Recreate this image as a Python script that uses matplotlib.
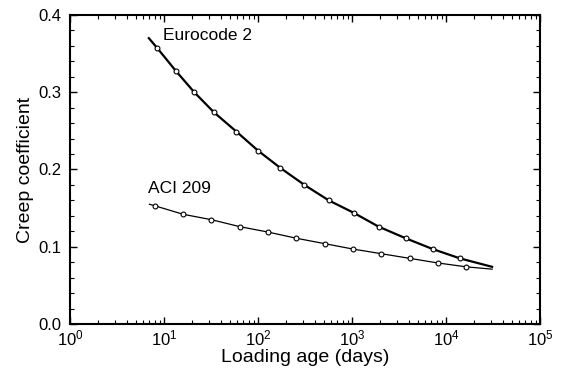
import matplotlib.pyplot as plt
import numpy as np

plt.rcParams['font.family'] = ['Liberation Sans', 'DejaVu Sans']

# Eurocode 2 curve (first and last points are the curve ends, no marker)
ec2_age = [6.9, 8.5, 13.5, 21, 34, 59, 101, 173, 312, 566, 1040, 1920, 3720, 7220, 14000, 30900]
ec2_phi = [0.370, 0.357, 0.327, 0.300, 0.274, 0.249, 0.224, 0.202, 0.180, 0.160,
           0.144, 0.126, 0.111, 0.097, 0.085, 0.074]

# ACI 209 curve
aci_age = [7.0, 8, 16, 32, 64, 128, 256, 512, 1024, 2048, 4096, 8192, 16384, 30900]
aci_phi = [0.155, 0.153, 0.142, 0.135, 0.126, 0.119, 0.111, 0.104, 0.097, 0.091,
           0.085, 0.079, 0.074, 0.071]

fig = plt.figure(figsize=(5.63, 3.71), dpi=100)
ax = fig.add_axes([0.1243, 0.1267, 0.8349, 0.8329])

ax.plot(ec2_age, ec2_phi, color='black', lw=1.6, marker='o', ms=3.5, mfc='white',
        mec='black', mew=0.8, markevery=slice(1, len(ec2_age) - 1))
ax.plot(aci_age, aci_phi, color='black', lw=0.9, marker='o', ms=3.5, mfc='white',
        mec='black', mew=0.8, markevery=slice(1, len(aci_age) - 1))

ax.text(9.8, 0.374, 'Eurocode 2', fontsize=12.5, va='center', ha='left')
ax.text(6.8, 0.175, 'ACI 209', fontsize=12.5, va='center', ha='left')

ax.set_xscale('log')
ax.set_xlim(1, 1e5)
ax.set_ylim(0, 0.4)
ax.set_yticks([0.0, 0.1, 0.2, 0.3, 0.4])
ax.set_yticklabels(['0.0', '0.1', '0.2', '0.3', '0.4'])
ax.set_yticks(np.arange(0, 0.401, 0.02), minor=True)
ax.tick_params(which='both', direction='in', top=True, right=True, labelsize=12)
ax.tick_params(which='major', length=5, width=1)
ax.tick_params(which='minor', length=3, width=0.8)
ax.tick_params(axis='x', which='major', pad=3)
ax.tick_params(axis='y', which='major', pad=6)
for s in ax.spines.values():
    s.set_linewidth(1.5)

ax.set_xlabel('Loading age (days)', fontsize=14, labelpad=1)
ax.set_ylabel('Creep coefficient', fontsize=14, labelpad=3)

fig.savefig('out.png', dpi=100)
